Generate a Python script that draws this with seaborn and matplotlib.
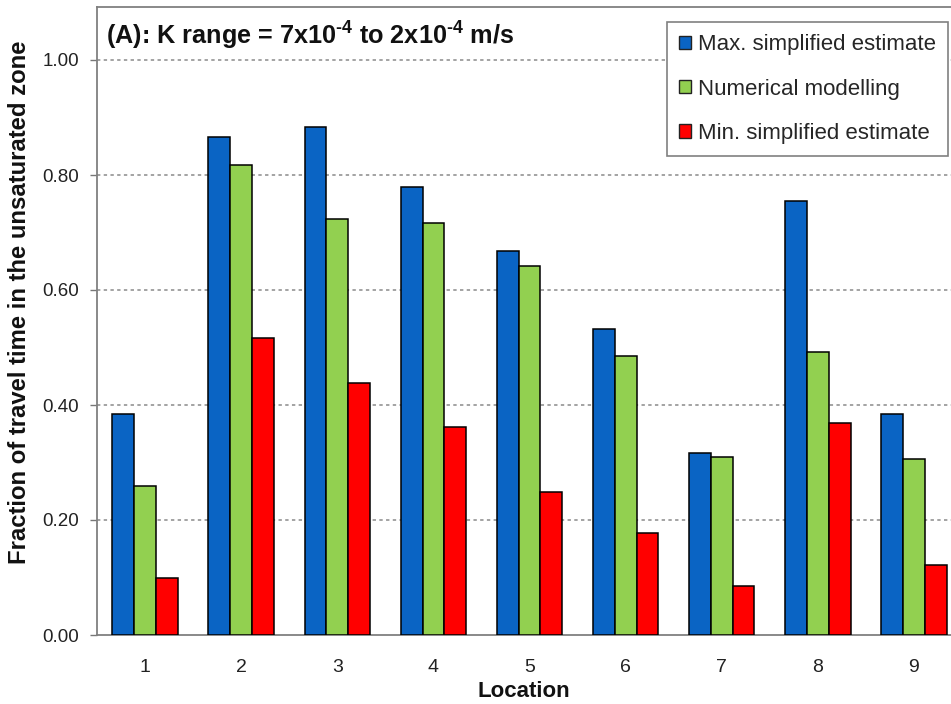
import matplotlib
matplotlib.use("Agg")
import matplotlib.pyplot as plt
import seaborn as sns
import pandas as pd
from matplotlib.ticker import FixedLocator

locations = ["1", "2", "3", "4", "5", "6", "7", "8", "9"]
series_names = ["Max. simplified estimate", "Numerical modelling", "Min. simplified estimate"]
max_est = [0.384, 0.866, 0.884, 0.780, 0.668, 0.533, 0.317, 0.755, 0.384]
numerical = [0.259, 0.817, 0.723, 0.717, 0.641, 0.486, 0.310, 0.492, 0.306]
min_est = [0.099, 0.516, 0.439, 0.361, 0.249, 0.178, 0.086, 0.368, 0.121]
y_ticks = [0.0, 0.2, 0.4, 0.6, 0.8, 1.0]
colors = ["#0A64C4", "#92D050", "#FF0000"]

rows = []
for name, vals in zip(series_names, [max_est, numerical, min_est]):
    for loc, v in zip(locations, vals):
        rows.append({"Location": loc, "Value": v, "Series": name})
df = pd.DataFrame(rows)

sns.set_style("white")
plt.rcParams["font.family"] = ["Liberation Sans", "DejaVu Sans"]
plt.rcParams["mathtext.fontset"] = "custom"
plt.rcParams["mathtext.rm"] = "Liberation Sans:bold"
plt.rcParams["mathtext.bf"] = "Liberation Sans:bold"
plt.rcParams["mathtext.default"] = "bf"

fig = plt.figure(figsize=(9.51, 7.04), dpi=100)
ax = fig.add_axes([97 / 951, 1 - 635 / 704, 1 - 97 / 951, (635 - 7) / 704])

sns.barplot(data=df, x="Location", y="Value", hue="Series", order=locations,
            hue_order=series_names, palette=colors, saturation=1, width=0.68,
            edgecolor="black", linewidth=1.1, ax=ax, zorder=3)

ax.set_xlim(-0.5, 8.385)
ax.set_ylim(0, (635 - 7) / 575)
ax.set_yticks(y_ticks)
ax.set_yticklabels([f"{t:.2f}" for t in y_ticks])
for t in y_ticks[1:]:
    ax.axhline(t, color="#8a8a8a", linestyle=(0, (2.2, 2.2)), linewidth=1.1, zorder=1)

ax.xaxis.set_minor_locator(FixedLocator([i + 0.5 for i in range(9)]))
ax.tick_params(axis="x", which="major", length=0, pad=17, labelsize=14, labelcolor="#222222")
ax.tick_params(axis="x", which="minor", length=4, direction="in", color="#777777", width=1)
ax.tick_params(axis="y", which="major", length=5, direction="out", color="#777777",
               width=1, pad=8, labelsize=13.5, labelcolor="#222222", left=True)

for side in ["left", "bottom", "top"]:
    ax.spines[side].set_color("#808080")
    ax.spines[side].set_linewidth(1.3)
ax.spines["right"].set_visible(False)

ax.set_xlabel("Location", fontsize=16, fontweight="bold", labelpad=4, color="#111111")
ax.set_ylabel("Fraction of travel time in the unsaturated zone", fontsize=17.2,
              fontweight="bold", color="#111111")
ax.yaxis.set_label_coords(-0.077, 0.53)

fig.text(106 / 951, 1 - 36 / 704,
         r"(A): K range = 7x10$^{\text{-}4}$ to 2x10$^{\text{-}4}$ m/s",
         fontsize=18.2, fontweight="bold", va="center", ha="left", color="#111111")

handles, labels = ax.get_legend_handles_labels()
leg = ax.legend(handles, labels, loc="upper left",
                bbox_to_anchor=(667 / 951, 1 - 22 / 704), bbox_transform=fig.transFigure,
                frameon=True, fancybox=False, framealpha=1, edgecolor="#808080",
                fontsize=16, handlelength=0.55, handleheight=0.55, handletextpad=0.3,
                labelspacing=1.05, borderpad=0.55, borderaxespad=0)
leg.get_frame().set_linewidth(1.2)
for h in leg.legend_handles:
    h.set_edgecolor("#222222")
    h.set_linewidth(1)

fig.savefig("out.png", dpi=100)
